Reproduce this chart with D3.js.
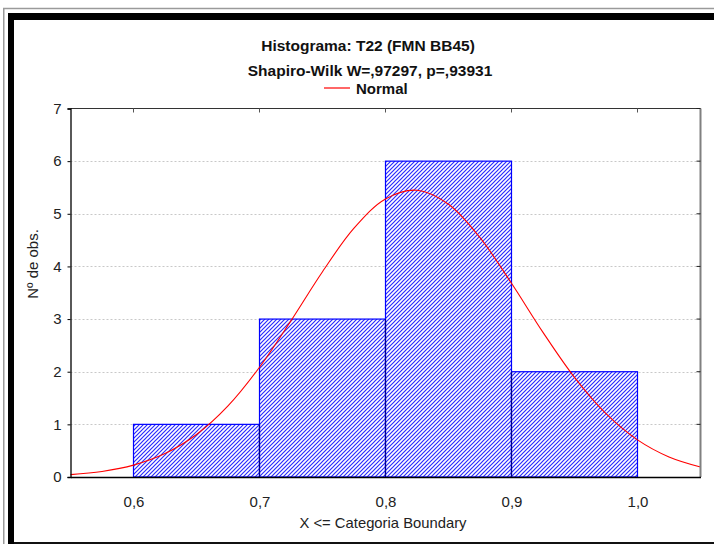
<!DOCTYPE html>
<html><head><meta charset="utf-8">
<script src="https://cdn.jsdelivr.net/npm/d3@7"></script>
<style>body{margin:0;background:#fff}svg{display:block;font-family:"Liberation Sans",Arial,sans-serif}</style>
</head><body>
<script>
const binStarts = [0.6, 0.7, 0.8, 0.9];
const binEnds = [0.7, 0.8, 0.9, 1.0];
const counts = [1, 3, 6, 2];
const xTicks = [0.6, 0.7, 0.8, 0.9, 1.0];
const yTicks = [0, 1, 2, 3, 4, 5, 6, 7];
const curveX = [0.55,0.575,0.6,0.625,0.65,0.675,0.7,0.725,0.75,0.775,0.8,0.825,0.85,0.875,0.9,0.925,0.95,0.975,1.0,1.025,1.05];
const curveY = [0.046,0.106,0.226,0.445,0.807,1.350,2.085,2.970,3.900,4.726,5.282,5.447,5.181,4.546,3.680,2.747,1.892,1.202,0.705,0.381,0.190];
const titleLines = ["Histograma: T22 (FMN BB45)", "Shapiro-Wilk W=,97297, p=,93931"];

const W = 714, H = 544;
const svg = d3.select("body").append("svg").attr("width", W).attr("height", H);

// frame
svg.append("line").attr("x1",3).attr("y1",8.5).attr("x2",W).attr("y2",8.5).attr("stroke","#9a9a9a").attr("stroke-width",1.5);
svg.append("line").attr("x1",3.75).attr("y1",8).attr("x2",3.75).attr("y2",H).attr("stroke","#9a9a9a").attr("stroke-width",1.5);
svg.append("rect").attr("x",8).attr("y",13).attr("width",6).attr("height",H-13).attr("fill","#000");
svg.append("rect").attr("x",8).attr("y",13).attr("width",W-8).attr("height",7).attr("fill","#000");
svg.append("rect").attr("x",14).attr("y",542).attr("width",W-14).attr("height",2).attr("fill","#111");

const L = 70.5, R = 700.5, T = 108.5, B = 477;
const x = d3.scaleLinear().domain([0.55, 1.05]).range([L, R]);
const y = d3.scaleLinear().domain([0, 7]).range([B, T]);

const defs = svg.append("defs");
const pat = defs.append("pattern").attr("id","hatch").attr("patternUnits","userSpaceOnUse").attr("width",4).attr("height",4);
pat.append("rect").attr("width",4).attr("height",4).attr("fill","#fff");
pat.append("path").attr("d","M-1,1 l2,-2 M0,4 l4,-4 M3,5 l2,-2").attr("stroke","#2a2aff").attr("stroke-width",1.2);

// grid
svg.append("g").selectAll("line").data(yTicks.filter(d => d > 0 && d < 7)).join("line")
  .attr("x1", L).attr("x2", R).attr("y1", d => Math.round(y(d)) + 0.5).attr("y2", d => Math.round(y(d)) + 0.5)
  .attr("stroke","#c8c8c8").attr("stroke-width",1).attr("stroke-dasharray","2,2");

// bars
const bars = binStarts.map((s,i) => ({s, e: binEnds[i], c: counts[i]}));
svg.append("g").selectAll("rect").data(bars).join("rect")
  .attr("x", d => x(d.s)).attr("y", d => y(d.c))
  .attr("width", d => x(d.e) - x(d.s)).attr("height", d => y(0) - y(d.c))
  .attr("fill","url(#hatch)").attr("stroke","#0000ff").attr("stroke-width",1.2);
// internal separators (darker)
svg.append("g").selectAll("line").data(bars.slice(1)).join("line")
  .attr("x1", d => x(d.s)).attr("x2", d => x(d.s))
  .attr("y1", (d,i) => y(Math.min(d.c, bars[i].c))).attr("y2", y(0))
  .attr("stroke","#00008b").attr("stroke-width",1.2);

// normal curve
const line = d3.line().x((d,i) => x(curveX[i])).y(d => y(d)).curve(d3.curveCatmullRom);
svg.append("path").datum(curveY).attr("d", line).attr("fill","none").attr("stroke","#ff0000").attr("stroke-width",1.1);

// axes frame
svg.append("line").attr("x1",L).attr("x2",R).attr("y1",T).attr("y2",T).attr("stroke","#333").attr("stroke-width",1.2);
svg.append("line").attr("x1",R).attr("x2",R).attr("y1",T).attr("y2",B).attr("stroke","#808080").attr("stroke-width",2);

const ax = svg.append("g").attr("transform",`translate(0,${B})`)
  .call(d3.axisBottom(x).tickValues(xTicks).tickSize(0).tickPadding(19).tickFormat(d => d3.format(".1f")(d).replace(".",",")));
ax.select(".domain").attr("stroke","#000").attr("stroke-width",1.5);
ax.selectAll("text").attr("font-size",15).attr("fill","#222").style("font-family","Liberation Sans, Arial, sans-serif");

const ay = svg.append("g").attr("transform",`translate(${L},0)`)
  .call(d3.axisLeft(y).tickValues(yTicks).tickSize(3).tickPadding(6).tickFormat(d3.format("d")));
ay.select(".domain").attr("stroke","#000").attr("stroke-width",1.3);
ay.selectAll("line").attr("stroke","#000");
ay.selectAll("text").attr("font-size",15).attr("fill","#222").style("font-family","Liberation Sans, Arial, sans-serif");

// inner ticks on top and right
svg.append("g").selectAll("line").data(xTicks).join("line")
  .attr("x1", d => x(d)).attr("x2", d => x(d)).attr("y1", T).attr("y2", T+4).attr("stroke","#555");
svg.append("g").selectAll("line").data(yTicks.filter(d => d > 0)).join("line")
  .attr("x1", R-4).attr("x2", R).attr("y1", d => y(d)).attr("y2", d => y(d)).attr("stroke","#222");

// titles
svg.append("text").attr("x",368).attr("y",51).attr("text-anchor","middle").attr("font-weight","bold").attr("font-size",15.5).attr("fill","#111").text(titleLines[0]);
svg.append("text").attr("x",370).attr("y",76).attr("text-anchor","middle").attr("font-weight","bold").attr("font-size",15.5).attr("fill","#111").text(titleLines[1]);
svg.append("line").attr("x1",324).attr("x2",350).attr("y1",88).attr("y2",88).attr("stroke","#ff0000").attr("stroke-width",1.2);
svg.append("text").attr("x",356).attr("y",93.5).attr("font-weight","bold").attr("font-size",15).attr("fill","#111").text("Normal");

svg.append("text").attr("x",383).attr("y",528).attr("text-anchor","middle").attr("font-size",14.8).attr("fill","#222").text("X <= Categoria Boundary");
svg.append("text").attr("transform","translate(38,264) rotate(-90)").attr("text-anchor","middle").attr("font-size",15).attr("fill","#222").text("Nº de obs.");
</script>
</body></html>
